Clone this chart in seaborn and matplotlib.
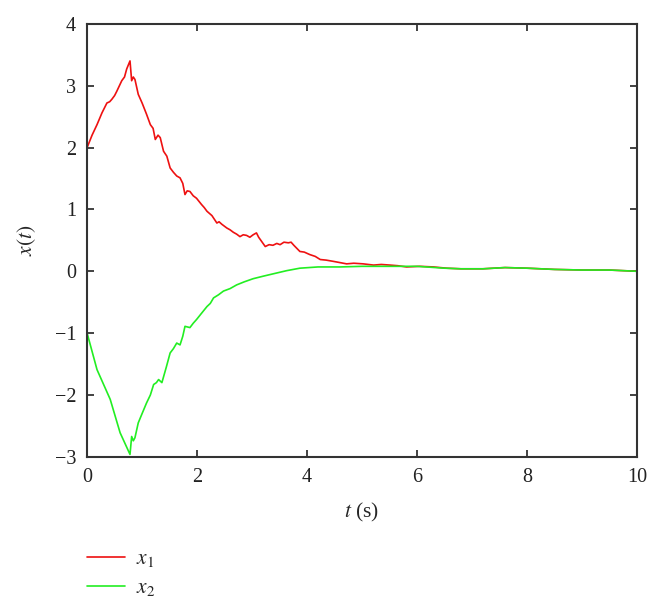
import matplotlib
matplotlib.use("Agg")
import matplotlib.pyplot as plt
import pandas as pd
import seaborn as sns

# %% Data
t_x1 = [0.0, 0.09, 0.18, 0.27, 0.36, 0.41, 0.45, 0.50, 0.54, 0.63, 0.68, 0.72,
        0.78, 0.81, 0.84, 0.87, 0.93, 1.0, 1.08, 1.15, 1.20, 1.24, 1.29, 1.33,
        1.39, 1.45, 1.51, 1.57, 1.63, 1.69, 1.74, 1.78, 1.82, 1.87, 1.93, 1.99,
        2.08, 2.13, 2.18, 2.27, 2.36, 2.40, 2.45, 2.54, 2.60, 2.66, 2.72, 2.78,
        2.84, 2.9, 2.96, 3.02, 3.08, 3.12, 3.16, 3.24, 3.31, 3.38, 3.45, 3.51,
        3.58, 3.66, 3.71, 3.76, 3.87, 3.95, 4.05, 4.15, 4.24, 4.35, 4.48, 4.6,
        4.72, 4.85, 5.02, 5.21, 5.35, 5.51, 5.65, 5.81, 6.05, 6.30, 6.54, 6.8,
        7.2, 7.6, 8.0, 8.5, 9.0, 9.5, 10.0]
x1 = [2.0, 2.2, 2.37, 2.56, 2.72, 2.74, 2.78, 2.84, 2.91, 3.08, 3.14, 3.27,
      3.40, 3.08, 3.14, 3.10, 2.86, 2.72, 2.54, 2.37, 2.31, 2.13, 2.20, 2.16,
      1.94, 1.86, 1.67, 1.60, 1.54, 1.51, 1.42, 1.24, 1.30, 1.29, 1.22, 1.18,
      1.08, 1.03, 0.97, 0.90, 0.78, 0.80, 0.76, 0.70, 0.67, 0.63, 0.60, 0.56,
      0.59, 0.58, 0.55, 0.59, 0.62, 0.55, 0.50, 0.40, 0.43, 0.42, 0.45, 0.43,
      0.47, 0.46, 0.47, 0.42, 0.32, 0.31, 0.27, 0.24, 0.19, 0.18, 0.16, 0.14,
      0.12, 0.13, 0.12, 0.10, 0.11, 0.10, 0.09, 0.07, 0.08, 0.07, 0.05, 0.04,
      0.04, 0.06, 0.05, 0.03, 0.02, 0.02, 0.0]

t_x2 = [0.0, 0.18, 0.42, 0.6, 0.78, 0.81, 0.84, 0.87, 0.93, 1.0, 1.08, 1.15,
        1.21, 1.26, 1.30, 1.36, 1.44, 1.51, 1.57, 1.63, 1.69, 1.74, 1.78, 1.87,
        1.93, 1.99, 2.08, 2.18, 2.24, 2.30, 2.39, 2.48, 2.60, 2.72, 2.86, 3.02,
        3.2, 3.39, 3.63, 3.87, 4.2, 4.6, 5.0, 5.5, 6.0, 6.5, 6.8, 7.2, 7.6, 8.0,
        8.5, 9.0, 9.5, 10.0]
x2 = [-1.0, -1.59, -2.07, -2.61, -2.96, -2.67, -2.74, -2.69, -2.45, -2.30, -2.13, -2.00,
      -1.83, -1.80, -1.75, -1.80, -1.55, -1.32, -1.25, -1.16, -1.19, -1.05, -0.89, -0.91,
      -0.84, -0.78, -0.68, -0.57, -0.52, -0.43, -0.38, -0.32, -0.28, -0.22, -0.17, -0.12,
      -0.08, -0.04, 0.01, 0.05, 0.07, 0.07, 0.08, 0.08, 0.08, 0.05, 0.04, 0.04, 0.06, 0.05,
      0.03, 0.02, 0.02, 0.0]

x_ticks = [0, 2, 4, 6, 8, 10]
y_ticks = [-3, -2, -1, 0, 1, 2, 3, 4]

df = pd.concat([
    pd.DataFrame({"t": t_x1, "x": x1, "series": "$x_1$"}),
    pd.DataFrame({"t": t_x2, "x": x2, "series": "$x_2$"}),
])

# %% Plot
sns.set_style("ticks")
plt.rcParams["font.family"] = ["Liberation Serif", "DejaVu Serif"]
plt.rcParams["mathtext.fontset"] = "stix"

fig = plt.figure(figsize=(6.6, 6.1), dpi=100)
ax = fig.add_axes([0.132, 0.251, 0.833, 0.710])

sns.lineplot(data=df, x="t", y="x", hue="series", sort=False,
             palette={"$x_1$": "#ee1111", "$x_2$": "#22ee22"},
             lw=1.2, ax=ax)

ax.set_xlim(0, 10)
ax.set_ylim(-3, 4)
ax.set_xticks(x_ticks)
ax.set_yticks(y_ticks)
ax.set_yticklabels([f"{v}".replace("-", "\u2212") for v in y_ticks])
ax.tick_params(direction="in", top=True, right=True, labelsize=14.5,
               length=5, width=1.2, colors="#222222", pad=8)
for s in ax.spines.values():
    s.set_linewidth(1.5)
    s.set_color("#333333")

ax.set_xlabel("$t$ (s)", fontsize=15.5, labelpad=10)
ax.set_ylabel("$x(t)$", fontsize=15.5, labelpad=12)

ax.legend(loc="upper left", bbox_to_anchor=(0.0, -0.213), frameon=False,
          fontsize=15.5, handlelength=1.75, labelspacing=0.42, handletextpad=0.5,
          borderaxespad=0, borderpad=0)

plt.savefig("out.png", dpi=100)
plt.close()
